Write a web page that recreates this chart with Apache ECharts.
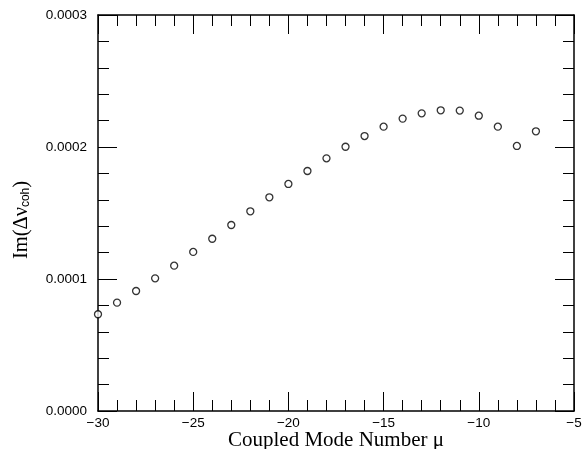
<!DOCTYPE html>
<html>
<head>
<meta charset="utf-8">
<script src="https://cdn.jsdelivr.net/npm/echarts@6/dist/echarts.min.js"></script>
<style>html,body{margin:0;padding:0;background:#fff}#c{width:586px;height:449px}</style>
</head>
<body>
<div id="c"></div>
<script>
const modeNumbers = [-30,-29,-28,-27,-26,-25,-24,-23,-22,-21,-20,-19,-18,-17,-16,-15,-14,-13,-12,-11,-10,-9,-8,-7];
const imDeltaNu = [7.33e-5,8.21e-5,9.09e-5,1.005e-4,1.101e-4,1.205e-4,1.305e-4,1.409e-4,1.513e-4,1.619e-4,1.72e-4,1.818e-4,1.914e-4,2.002e-4,2.083e-4,2.154e-4,2.215e-4,2.255e-4,2.278e-4,2.276e-4,2.237e-4,2.154e-4,2.008e-4,2.119e-4];
const xTitle = 'Coupled Mode Number \u03bc';

const chart = echarts.init(document.getElementById('c'), null, {renderer:'canvas'});
const sans = 'Liberation Sans, Arial, sans-serif';
const serif = 'Liberation Serif, Times New Roman, serif';
const lineStyle = {color:'#000', width:1.5};
const tickBase = {show:true, inside:true, length:19, lineStyle:{color:'#000', width:1}};
const minorBase = {show:true, splitNumber:5, length:11, lineStyle:{color:'#000', width:1}};
const xCommon = {type:'value', min:-30, max:-5, interval:5, axisLine:{show:true, onZero:false, lineStyle}, axisTick:tickBase, minorTick:minorBase, splitLine:{show:false}};
const yCommon = {type:'value', min:0, max:0.0003, interval:0.0001, axisLine:{show:true, onZero:false, lineStyle}, axisTick:tickBase, minorTick:minorBase, splitLine:{show:false}};

chart.setOption({
  animation:false,
  grid:{left:98, right:12, top:15, bottom:38, containLabel:false, outerBoundsMode:'none'},
  xAxis:[
    Object.assign({}, xCommon, {position:'bottom',
      axisLabel:{show:true, margin:5, fontFamily:sans, fontSize:13.5, color:'#000', formatter:v=>String(v).replace('-', '\u2212')},
      name:xTitle, nameLocation:'middle', nameGap:19, nameMoveOverlap:false, nameTextStyle:{fontFamily:serif, fontSize:21, color:'#000', verticalAlign:'top'}}),
    Object.assign({}, xCommon, {position:'top', axisLabel:{show:false}})
  ],
  yAxis:[
    Object.assign({}, yCommon, {position:'left',
      axisLabel:{show:true, margin:11, fontFamily:sans, fontSize:13.5, color:'#000', formatter:v=>v.toFixed(4)},
      name:'{a|Im(\u0394\u03bd}{b|coh}{a|)}', nameLocation:'middle', nameGap:66, nameRotate:90, nameMoveOverlap:false,
      nameTextStyle:{color:'#000', padding:[0,14,0,0], rich:{a:{fontFamily:serif, fontSize:20.5, color:'#000'}, b:{fontFamily:sans, fontSize:12, color:'#000', verticalAlign:'bottom', padding:[8,0,0,0]}}}}),
    Object.assign({}, yCommon, {position:'right', axisLabel:{show:false}})
  ],
  series:[{
    type:'scatter', xAxisIndex:0, yAxisIndex:0, clip:false,
    symbol:'circle', symbolSize:7,
    itemStyle:{color:'#fff', borderColor:'#000', borderWidth:1.3},
    data: modeNumbers.map((m,i)=>[m, imDeltaNu[i]])
  }]
});
</script>
</body>
</html>
